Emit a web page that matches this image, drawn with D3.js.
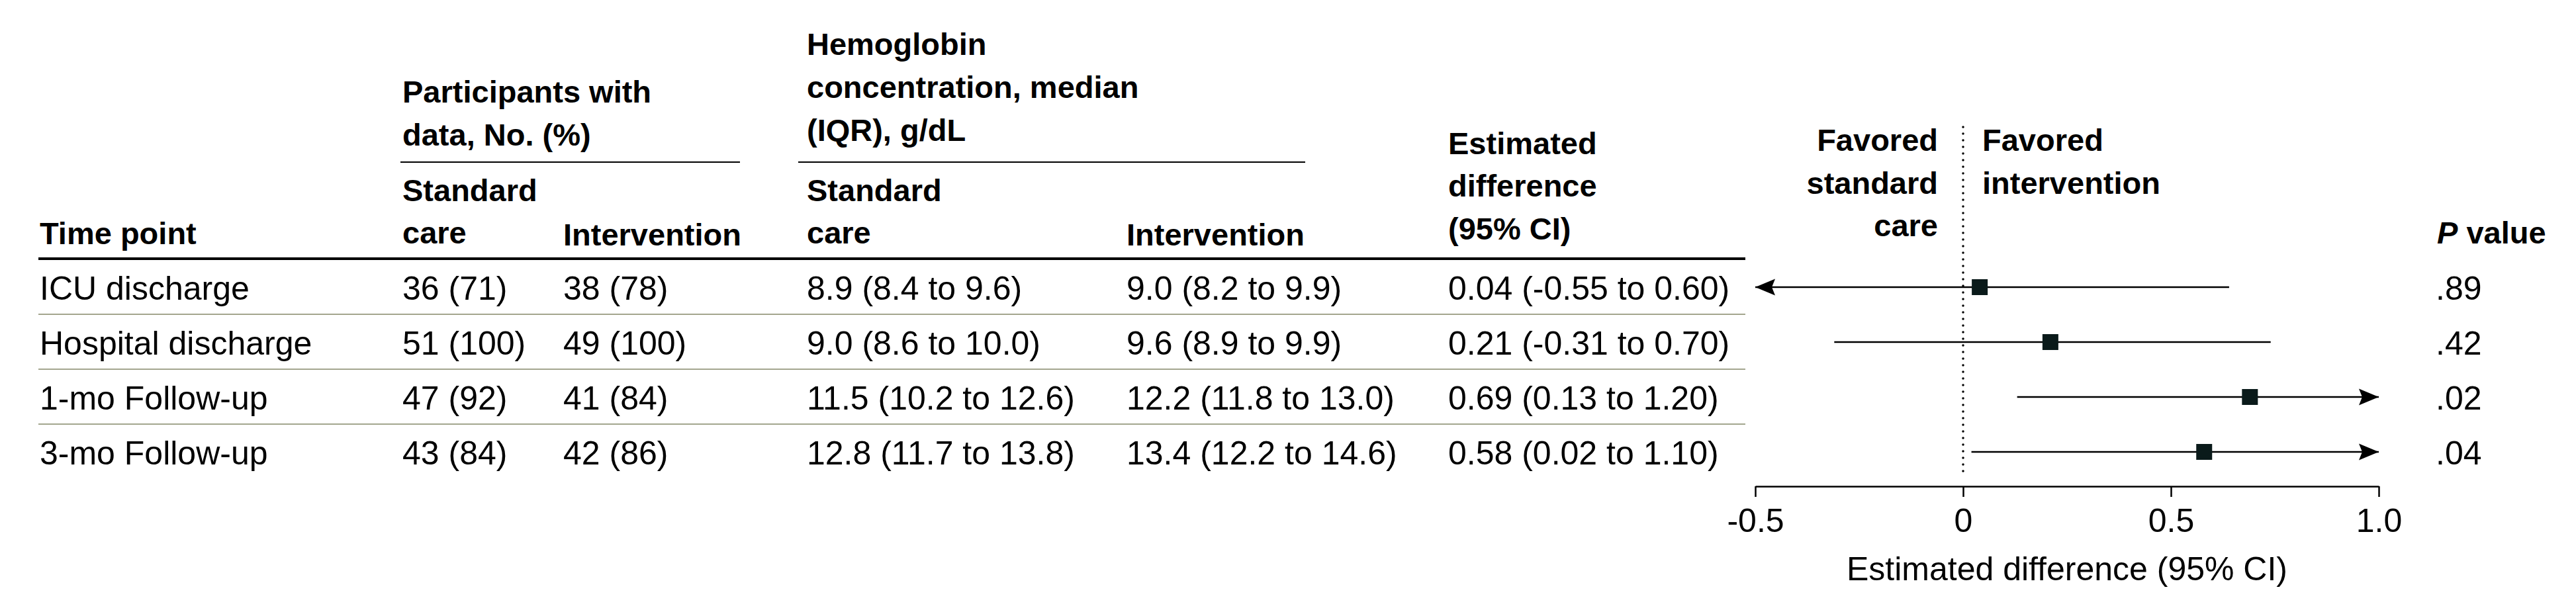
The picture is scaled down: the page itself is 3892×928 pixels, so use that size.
<!DOCTYPE html>
<html>
<head>
<meta charset="utf-8">
<script src="https://cdn.jsdelivr.net/npm/d3@7"></script>
<style>
  body { margin: 0; background: #fff; }
  text { font-family: "Liberation Sans", Arial, sans-serif; fill: #000; }
</style>
</head>
<body>
<script>
// Table data, one entry per time point
const timePoints = ["ICU discharge", "Hospital discharge", "1-mo Follow-up", "3-mo Follow-up"];

const nStandard = [36, 51, 47, 43];
const pctStandard = [71, 100, 92, 84];
const nIntervention = [38, 49, 41, 42];
const pctIntervention = [78, 100, 84, 86];

const hgbStdMedian = [8.9, 9.0, 11.5, 12.8];
const hgbStdQ1 = [8.4, 8.6, 10.2, 11.7];
const hgbStdQ3 = [9.6, 10.0, 12.6, 13.8];
const hgbIntMedian = [9.0, 9.6, 12.2, 13.4];
const hgbIntQ1 = [8.2, 8.9, 11.8, 12.2];
const hgbIntQ3 = [9.9, 9.9, 13.0, 14.6];

const estDiff = [0.04, 0.21, 0.69, 0.58];
const ciLow = [-0.55, -0.31, 0.13, 0.02];
const ciHigh = [0.60, 0.70, 1.20, 1.10];
// the bars in the figure stop a little past the printed upper bounds for the first two rows
const ciHighDrawn = [0.64, 0.74, 1.20, 1.10];

const pValues = [".89", ".42", ".02", ".04"];

const axisTicks = [-0.5, 0, 0.5, 1.0];
const axisTickLabels = ["-0.5", "0", "0.5", "1.0"];

const width = 3892, height = 928;
const regular = 50, bold = 47;

const svg = d3.select("body").append("svg")
  .attr("width", width)
  .attr("height", height);

svg.append("rect").attr("width", width).attr("height", height).attr("fill", "#fff");

// column anchors
const col = { time: 60, nStd: 608, nInt: 851, hgbStd: 1219, hgbInt: 1702, diff: 2188, p: 3680 };
const tableLeft = 58, tableRight = 2637;

// rows
const y = d3.scaleBand().domain(timePoints).range([391, 723]);

function lines(x, baselines, texts, opts = {}) {
  texts.forEach((t, i) => {
    svg.append("text")
      .attr("x", x)
      .attr("y", baselines[i])
      .attr("text-anchor", opts.anchor || "start")
      .style("font-size", (opts.size || bold) + "px")
      .style("font-weight", opts.weight || "bold")
      .text(t);
  });
}

// Header
lines(col.time, [369], ["Time point"]);
lines(col.nStd, [155, 220], ["Participants with", "data, No. (%)"]);
lines(col.hgbStd, [83, 148, 213], ["Hemoglobin", "concentration, median", "(IQR), g/dL"]);
lines(col.nStd, [304, 368], ["Standard", "care"]);
lines(col.nInt, [371], ["Intervention"]);
lines(col.hgbStd, [304, 368], ["Standard", "care"]);
lines(col.hgbInt, [371], ["Intervention"]);
lines(col.diff, [233, 297, 362], ["Estimated", "difference", "(95% CI)"]);

// group underlines
svg.append("line").attr("x1", 605).attr("x2", 1118).attr("y1", 245).attr("y2", 245)
  .attr("stroke", "#000").attr("stroke-width", 2);
svg.append("line").attr("x1", 1206).attr("x2", 1972).attr("y1", 245).attr("y2", 245)
  .attr("stroke", "#000").attr("stroke-width", 2);

// thick rule under header
svg.append("line").attr("x1", tableLeft).attr("x2", tableRight).attr("y1", 391).attr("y2", 391)
  .attr("stroke", "#000").attr("stroke-width", 4);

// row separators
svg.selectAll("line.sep")
  .data(timePoints.slice(0, -1))
  .join("line")
  .attr("class", "sep")
  .attr("x1", tableLeft).attr("x2", tableRight)
  .attr("y1", d => y(d) + y.bandwidth() + 1)
  .attr("y2", d => y(d) + y.bandwidth() + 1)
  .attr("stroke", "#a3a68e")
  .attr("stroke-width", 2);

// body cells
const fmtIqr = (m, a, b) => `${m.toFixed(1)} (${a.toFixed(1)} to ${b.toFixed(1)})`;
const fmtCi = (e, a, b) => `${e.toFixed(2)} (${a.toFixed(2)} to ${b.toFixed(2)})`;

const cells = timePoints.map((t, i) => [
  [col.time, t],
  [col.nStd, `${nStandard[i]} (${pctStandard[i]})`],
  [col.nInt, `${nIntervention[i]} (${pctIntervention[i]})`],
  [col.hgbStd, fmtIqr(hgbStdMedian[i], hgbStdQ1[i], hgbStdQ3[i])],
  [col.hgbInt, fmtIqr(hgbIntMedian[i], hgbIntQ1[i], hgbIntQ3[i])],
  [col.diff, fmtCi(estDiff[i], ciLow[i], ciHigh[i])],
  [col.p, pValues[i]]
]);

cells.forEach((row, i) => {
  row.forEach(([x, t]) => {
    svg.append("text")
      .attr("x", x)
      .attr("y", y(timePoints[i]) + 62)
      .style("font-size", regular + "px")
      .text(t);
  });
});

// Forest plot
const x = d3.scaleLinear().domain([-0.5, 1.0]).range([2652, 3594]);
const [xMin, xMax] = x.domain();

const axis = d3.axisBottom(x)
  .tickValues(axisTicks)
  .tickFormat((d, i) => axisTickLabels[i])
  .tickSize(16)
  .tickSizeOuter(0)
  .tickPadding(17);

const axisG = svg.append("g")
  .attr("transform", "translate(0,735)")
  .call(axis)
  .attr("font-size", regular);
axisG.select(".domain").attr("stroke-width", 2.5);
axisG.selectAll(".tick line").attr("stroke-width", 2.5);

svg.append("text")
  .attr("x", (x(xMin) + x(xMax)) / 2)
  .attr("y", 877)
  .attr("text-anchor", "middle")
  .style("font-size", regular + "px")
  .text("Estimated difference (95% CI)");

// null line
svg.append("line")
  .attr("x1", x(0)).attr("x2", x(0))
  .attr("y1", 192).attr("y2", 713)
  .attr("stroke", "#000")
  .attr("stroke-width", 3.5)
  .attr("stroke-linecap", "round")
  .attr("stroke-dasharray", "0,10");

// favored labels
lines(x(0) - 38, [228, 293, 357], ["Favored", "standard", "care"], { anchor: "end" });
lines(x(0) + 29, [228, 293], ["Favored", "intervention"]);

// CI bars, arrows and point estimates
const rowMid = d => y(d) + 43;

timePoints.forEach((t, i) => {
  const lo = Math.max(ciLow[i], xMin);
  const hi = Math.min(ciHighDrawn[i], xMax);
  const cy = rowMid(t);

  svg.append("line")
    .attr("x1", x(lo)).attr("x2", x(hi))
    .attr("y1", cy).attr("y2", cy)
    .attr("stroke", "#000")
    .attr("stroke-width", 2.5);

  if (ciLow[i] < xMin) {
    const tip = x(xMin);
    svg.append("path")
      .attr("d", `M${tip},${cy}L${tip + 30},${cy - 12.5}L${tip + 25},${cy}L${tip + 30},${cy + 12.5}Z`)
      .attr("fill", "#000");
  }
  if (ciHighDrawn[i] > xMax) {
    const tip = x(xMax);
    svg.append("path")
      .attr("d", `M${tip},${cy}L${tip - 30},${cy - 12.5}L${tip - 25},${cy}L${tip - 30},${cy + 12.5}Z`)
      .attr("fill", "#000");
  }

  svg.append("rect")
    .attr("x", x(estDiff[i]) - 12)
    .attr("y", cy - 12)
    .attr("width", 24)
    .attr("height", 24)
    .attr("fill", "#0a1a1a");
});

// P value header
const pHead = svg.append("text")
  .attr("x", col.p + 2)
  .attr("y", 368)
  .style("font-size", bold + "px")
  .style("font-weight", "bold");
pHead.append("tspan").style("font-style", "italic").text("P");
pHead.append("tspan").text(" value");
</script>
</body>
</html>
